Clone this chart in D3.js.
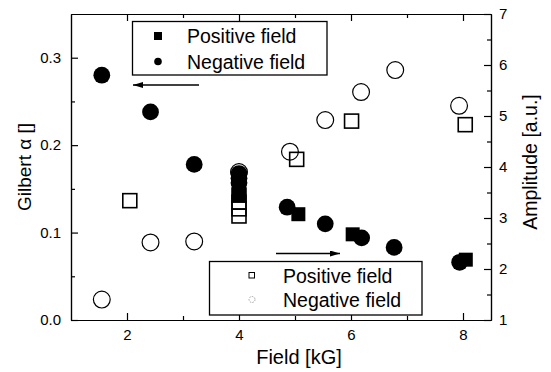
<!DOCTYPE html>
<html>
<head>
<meta charset="utf-8">
<script src="https://cdn.jsdelivr.net/npm/d3@7"></script>
<style>
  html, body { margin: 0; padding: 0; background: #fff; }
  svg { display: block; font-family: Arial, "Liberation Sans", Helvetica, sans-serif; }
</style>
</head>
<body>
<svg id="chart" width="551" height="372"></svg>
<script>
// Gilbert damping (left axis): filled markers
const fieldPosAlpha = [4.0, 4.0, 4.0, 5.06, 6.03, 8.05];
const alphaPos      = [0.154, 0.149, 0.143, 0.121, 0.098, 0.069];
const fieldNegAlpha = [1.55, 2.42, 3.2, 4.0, 4.0, 4.0, 4.86, 5.54, 6.19, 6.77, 7.94];
const alphaNeg      = [0.280, 0.238, 0.178, 0.1675, 0.162, 0.157, 0.129, 0.110, 0.094, 0.083, 0.066];

// Amplitude (right axis): open markers
const fieldPosAmp = [2.05, 4.0, 4.0, 4.0, 4.0, 5.03, 6.01, 8.04];
const ampPos      = [3.34, 3.04, 3.18, 3.31, 3.45, 4.15, 4.90, 4.83];
const fieldNegAmp = [1.55, 2.42, 3.2, 4.0, 4.91, 5.54, 6.18, 6.79, 7.93];
const ampNeg      = [1.40, 2.52, 2.54, 3.9, 4.30, 4.92, 5.47, 5.90, 5.20];

// Axis ticks
const xTicks      = [2, 4, 6, 8];
const xMinor      = [3, 5, 7];
const alphaTicks  = [0.0, 0.1, 0.2, 0.3];
const alphaMinor  = [0.05, 0.15, 0.25];
const ampTicks    = [1, 2, 3, 4, 5, 6, 7];
const ampMinor    = [1.5, 2.5, 3.5, 4.5, 5.5, 6.5];

const legendTop    = ["Positive field", "Negative field"];
const legendBottom = ["Positive field", "Negative field"];

const svg = d3.select("#chart");
const L = 71, T = 14, R = 491, B = 320;

const x  = d3.scaleLinear().domain([1, 8.5]).range([L, R]);
const yA = d3.scaleLinear().domain([0, 0.35]).range([B, T]);
const yM = d3.scaleLinear().domain([1, 7]).range([B, T]);

const tickFont = "15px";

function styleAxis(g) {
  g.selectAll("path.domain").attr("stroke", "#000").attr("stroke-width", 1.2);
  g.selectAll(".tick line").attr("stroke", "#000").attr("stroke-width", 1.2);
  g.selectAll("text").attr("fill", "#000").style("font-size", tickFont)
    .style("font-family", "Arial, 'Liberation Sans', sans-serif");
}

// bottom axis
svg.append("g").attr("transform", `translate(0,${B})`)
  .call(d3.axisBottom(x).tickValues(xTicks).tickFormat(d3.format("d")).tickSizeInner(-7).tickSizeOuter(0).tickPadding(9))
  .call(styleAxis);
svg.append("g").attr("transform", `translate(0,${B})`)
  .call(d3.axisBottom(x).tickValues(xMinor).tickFormat("").tickSizeInner(-4).tickSizeOuter(0))
  .call(styleAxis);
// top axis
svg.append("g").attr("transform", `translate(0,${T})`)
  .call(d3.axisTop(x).tickValues(xTicks).tickFormat("").tickSizeInner(-7).tickSizeOuter(0))
  .call(styleAxis);
svg.append("g").attr("transform", `translate(0,${T})`)
  .call(d3.axisTop(x).tickValues(xMinor).tickFormat("").tickSizeInner(-4).tickSizeOuter(0))
  .call(styleAxis);
// left axis
svg.append("g").attr("transform", `translate(${L},0)`)
  .call(d3.axisLeft(yA).tickValues(alphaTicks).tickFormat(d3.format(".1f")).tickSizeInner(-7).tickSizeOuter(0).tickPadding(10))
  .call(styleAxis);
svg.append("g").attr("transform", `translate(${L},0)`)
  .call(d3.axisLeft(yA).tickValues(alphaMinor).tickFormat("").tickSizeInner(-4).tickSizeOuter(0))
  .call(styleAxis);
// right axis
svg.append("g").attr("transform", `translate(${R},0)`)
  .call(d3.axisRight(yM).tickValues(ampTicks).tickFormat(d3.format("d")).tickSizeInner(-7).tickSizeOuter(0).tickPadding(8))
  .call(styleAxis);
svg.append("g").attr("transform", `translate(${R},0)`)
  .call(d3.axisRight(yM).tickValues(ampMinor).tickFormat("").tickSizeInner(-4).tickSizeOuter(0))
  .call(styleAxis);

// axis titles
svg.append("text").attr("x", 299).attr("y", 364).attr("text-anchor", "middle")
  .style("font-size", "20px").text("Field [kG]");
svg.append("text").attr("transform", "translate(24,167) rotate(-90)")
  .attr("text-anchor", "middle").attr("dominant-baseline", "central")
  .style("font-size", "19px").text("Gilbert α []");
svg.append("text").attr("transform", "translate(530,162) rotate(-90)")
  .attr("text-anchor", "middle").attr("dominant-baseline", "central")
  .style("font-size", "19.5px").text("Amplitude [a.u.]");

const plot = svg.append("g");
const SQ = 14, CR = 8.4;

// open markers: amplitude
plot.selectAll("rect.openPos").data(d3.zip(fieldPosAmp, ampPos)).join("rect")
  .attr("x", d => x(d[0]) - SQ / 2).attr("y", d => yM(d[1]) - SQ / 2)
  .attr("width", SQ).attr("height", SQ)
  .attr("fill", "none").attr("stroke", "#000").attr("stroke-width", 1.6);
plot.selectAll("circle.openNeg").data(d3.zip(fieldNegAmp, ampNeg)).join("circle")
  .attr("cx", d => x(d[0])).attr("cy", d => yM(d[1])).attr("r", CR)
  .attr("fill", "none").attr("stroke", "#000").attr("stroke-width", 1.2);

// filled markers: Gilbert alpha
plot.selectAll("rect.filledPos").data(d3.zip(fieldPosAlpha, alphaPos)).join("rect")
  .attr("x", d => x(d[0]) - SQ / 2).attr("y", d => yA(d[1]) - SQ / 2)
  .attr("width", SQ).attr("height", SQ).attr("fill", "#000");
plot.selectAll("circle.filledNeg").data(d3.zip(fieldNegAlpha, alphaNeg)).join("circle")
  .attr("cx", d => x(d[0])).attr("cy", d => yA(d[1])).attr("r", CR).attr("fill", "#000");

// arrows showing which axis each set belongs to
const defs = svg.append("defs");
defs.append("marker").attr("id", "head").attr("viewBox", "0 0 10 6")
  .attr("refX", 10).attr("refY", 3).attr("markerWidth", 10).attr("markerHeight", 6)
  .attr("markerUnits", "userSpaceOnUse").attr("orient", "auto")
  .append("path").attr("d", "M0,0 L10,3 L0,6 Z").attr("fill", "#000");
svg.append("line").attr("x1", 199).attr("y1", 85).attr("x2", 133).attr("y2", 85)
  .attr("stroke", "#000").attr("stroke-width", 1.3).attr("marker-end", "url(#head)");
svg.append("line").attr("x1", 276).attr("y1", 253.5).attr("x2", 340).attr("y2", 253.5)
  .attr("stroke", "#000").attr("stroke-width", 1.3).attr("marker-end", "url(#head)");

// legend for the filled markers
const lg1 = svg.append("g");
lg1.append("rect").attr("x", 132.5).attr("y", 21.5).attr("width", 194.5).attr("height", 53.5)
  .attr("fill", "#fff").attr("stroke", "#000").attr("stroke-width", 1.3);
lg1.append("rect").attr("x", 154).attr("y", 32).attr("width", 8).attr("height", 8).attr("fill", "#000");
lg1.append("circle").attr("cx", 158).attr("cy", 61.5).attr("r", 3.8).attr("fill", "#000");
lg1.selectAll("text").data(legendTop).join("text")
  .attr("x", 187).attr("y", (d, i) => 36 + i * 25.5).attr("dominant-baseline", "central")
  .style("font-size", "19.5px").text(d => d);

// legend for the open markers
const lg2 = svg.append("g");
lg2.append("rect").attr("x", 209.5).attr("y", 261.5).attr("width", 212.5).attr("height", 53.5)
  .attr("fill", "#fff").attr("stroke", "#000").attr("stroke-width", 1.3);
lg2.append("rect").attr("x", 249).attr("y", 272.5).attr("width", 5.5).attr("height", 5.5)
  .attr("fill", "none").attr("stroke", "#000").attr("stroke-width", 1);
lg2.append("circle").attr("cx", 252).attr("cy", 299.5).attr("r", 3)
  .attr("fill", "none").attr("stroke", "#999").attr("stroke-width", 0.9).attr("stroke-dasharray", "1.5,1.2");
lg2.selectAll("text").data(legendBottom).join("text")
  .attr("x", 283).attr("y", (d, i) => 275.5 + i * 24).attr("dominant-baseline", "central")
  .style("font-size", "19.5px").text(d => d);
</script>
</body>
</html>
